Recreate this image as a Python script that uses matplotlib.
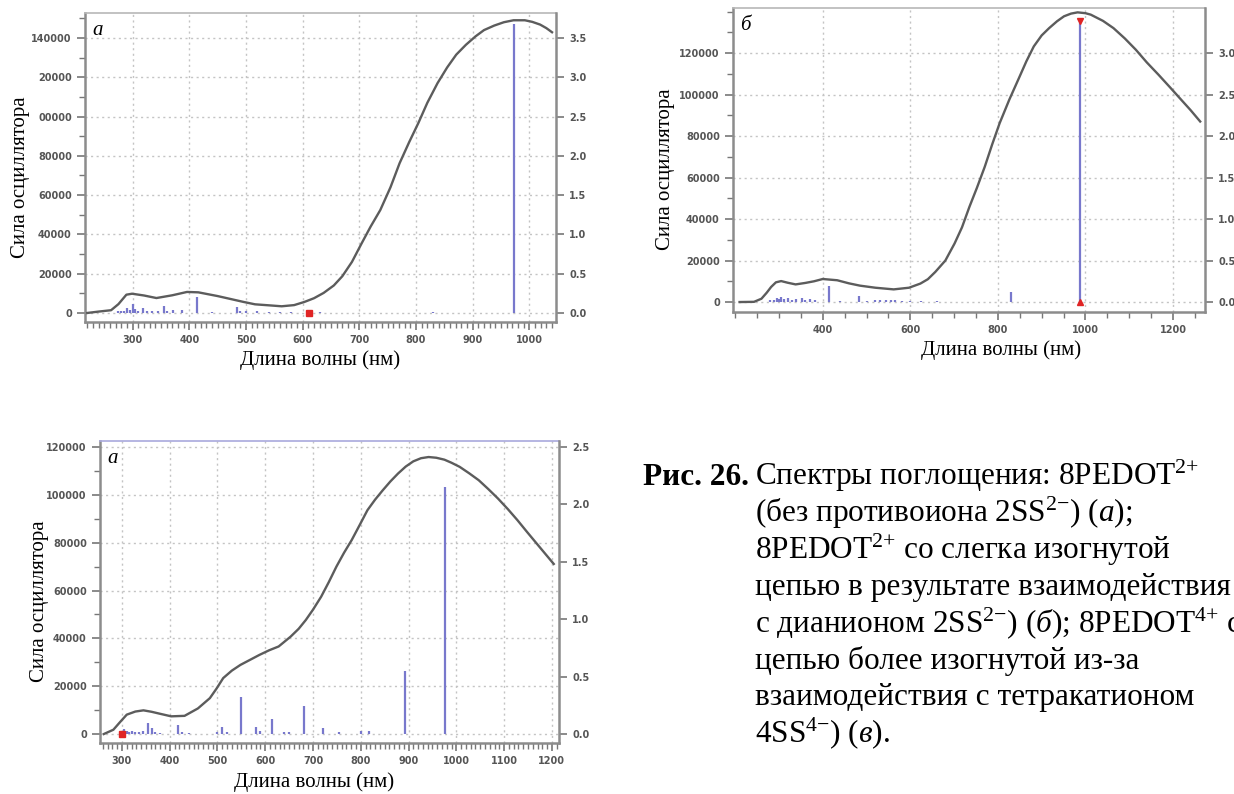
import matplotlib
matplotlib.use("Agg")
import matplotlib.pyplot as plt
from matplotlib.ticker import MultipleLocator

plt.rcParams['font.family'] = ['Liberation Serif', 'DejaVu Serif']
plt.rcParams['mathtext.fontset'] = 'custom'
plt.rcParams['mathtext.rm'] = 'Liberation Serif'
plt.rcParams['mathtext.it'] = 'Liberation Serif:italic'

# --- panel a: 8PEDOT2+ without counter ion ---
a_wl = [220, 240, 262, 275, 289, 299, 320, 342, 370, 396, 416, 450, 496, 516, 540, 563,
        585, 603, 620, 637, 655, 670, 687, 704, 720, 737, 755, 771, 788, 804, 820, 838,
        855, 871, 888, 905, 920, 938, 955, 972, 992, 1005, 1019, 1030, 1040]
a_abs = [0, 700, 1400, 4500, 9300, 9800, 8900, 7600, 9000, 10700, 10500, 8600, 5600, 4400,
         3900, 3400, 4000, 5600, 7500, 10200, 14000, 18700, 26000, 35400, 44000, 52400,
         64000, 76200, 87000, 96600, 107000, 117000, 125000, 131500, 136500, 140800,
         144000, 146300, 148000, 149000, 149000, 148200, 146800, 145000, 142900]
a_stick_wl = [275, 280, 285, 290, 295, 300, 305, 310, 318, 325, 335, 345, 355, 360, 372,
              388, 413, 440, 485, 490, 500, 520, 540, 560, 580, 630, 830, 973]
a_stick_f = [0.02, 0.03, 0.02, 0.06, 0.04, 0.12, 0.05, 0.03, 0.06, 0.03, 0.02, 0.03, 0.085,
             0.03, 0.04, 0.035, 0.2, 0.01, 0.075, 0.03, 0.02, 0.02, 0.01, 0.01, 0.015,
             0.015, 0.008, 3.68]
a_red_wl = [612]
a_ylabels = ['0', '20000', '40000', '60000', '80000', '00000', '20000', '140000']

# --- panel б: slightly bent chain with 2SS2- ---
b_wl = [210, 243, 260, 272, 282, 293, 305, 320, 338, 360, 380, 400, 433, 460, 485, 520,
        562, 597, 623, 640, 657, 680, 701, 718, 735, 752, 770, 787, 804, 826, 848, 865,
        882, 900, 917, 935, 951, 967, 982, 1000, 1012, 1040, 1064, 1090, 1115, 1140,
        1167, 1193, 1219, 1240, 1262]
b_abs = [0, 100, 1600, 4500, 7250, 9500, 10100, 9300, 8500, 9200, 10000, 11100, 10500,
         9000, 7900, 6900, 6100, 6900, 8900, 11000, 14500, 20000, 28200, 36000, 45900,
         55000, 65200, 76000, 86200, 97500, 107900, 116000, 123200, 128500, 132000,
         135300, 137700, 139000, 139600, 139200, 138500, 135500, 132000, 127000, 121600,
         115500, 109500, 103500, 97400, 92500, 87000]
b_stick_wl = [280, 288, 295, 300, 305, 312, 320, 330, 340, 352, 360, 372, 383, 415, 440,
              483, 500, 520, 530, 545, 555, 565, 580, 600, 625, 662, 830, 988]
b_stick_f = [0.02, 0.03, 0.05, 0.04, 0.06, 0.04, 0.05, 0.03, 0.04, 0.05, 0.03, 0.04, 0.03,
             0.19, 0.01, 0.07, 0.01, 0.03, 0.02, 0.03, 0.03, 0.02, 0.01, 0.01, 0.01, 0.01,
             0.12, 3.38]
b_mark_wl = 988
b_mark_f = 3.38
b_ylabels = ['0', '20000', '40000', '60000', '80000', '100000', '120000']

# --- panel в: 8PEDOT4+ with 4SS4- ---
v_wl = [262, 282, 296, 310, 328, 345, 362, 379, 403, 431, 459, 484, 498, 512, 530, 548,
        568, 588, 608, 628, 653, 670, 685, 700, 717, 733, 749, 765, 781, 798, 814, 830,
        846, 862, 878, 894, 910, 926, 942, 958, 975, 990, 1007, 1027, 1047, 1067, 1087,
        1108, 1128, 1148, 1168, 1186, 1204]
v_abs = [0, 1800, 5000, 8100, 9400, 9900, 9300, 8500, 7400, 7600, 10700, 15000, 19000,
         23400, 26500, 28900, 31000, 33100, 35000, 36600, 40700, 44000, 47700, 52000,
         57400, 63500, 70000, 75800, 81100, 87500, 93600, 98000, 101900, 105600, 108900,
         111800, 114000, 115300, 115800, 115500, 114700, 113400, 111700, 109000, 106100,
         102400, 98500, 94000, 89400, 84500, 79700, 75400, 71100]
v_stick_wl = [300, 305, 310, 315, 320, 328, 335, 345, 355, 362, 370, 380, 418, 425, 440,
              500, 510, 520, 550, 580, 590, 615, 640, 650, 682, 720, 755, 800, 818, 893, 977]
v_stick_f = [0.03, 0.04, 0.03, 0.02, 0.03, 0.02, 0.02, 0.03, 0.10, 0.05, 0.02, 0.01, 0.08,
             0.02, 0.01, 0.02, 0.06, 0.02, 0.32, 0.06, 0.03, 0.13, 0.015, 0.015, 0.24,
             0.05, 0.02, 0.03, 0.03, 0.55, 2.15]
v_red_wl = [300]
v_ylabels = ['0', '20000', '40000', '60000', '80000', '100000', '120000']

caption_lines = [
    r'Спектры поглощения: 8PEDOT$^{2{+}}$',
    r'(без противоиона 2SS$^{2{-}}$) ($\mathit{а}$);',
    r'8PEDOT$^{2{+}}$ со слегка изогнутой',
    r'цепью в результате взаимодействия',
    r'с дианионом 2SS$^{2{-}}$) ($\mathit{б}$); 8PEDOT$^{4{+}}$ с',
    r'цепью более изогнутой из-за',
    r'взаимодействия с тетракатионом',
    r'4SS$^{4{-}}$) ($\mathit{в}$).',
]

W, H = 1234, 794
CURVE = '#5c5c5c'
STICK = '#7878cc'
RED = '#e02424'
TICKC = '#555555'


def rect(l, r, t, b):
    return [l / W, 1 - b / H, (r - l) / W, (b - t) / H]


def draw_panel(fig, box, xlim, ylim, scale, wl, ab, sx, sf, xmaj, xmin, ylabels,
               rmax, letter, ylab_x, xlab_x, xlab_y, top_color='#b8b8b8'):
    ax = fig.add_axes(box)
    ax.set_xlim(*xlim)
    ax.set_ylim(*ylim)

    # dotted grid
    ax.set_xticks(xmaj)
    ax.xaxis.set_minor_locator(MultipleLocator(xmin))
    ax.set_yticks(range(0, 20000 * len(ylabels), 20000))
    ax.set_yticklabels(ylabels)
    ax.yaxis.set_minor_locator(MultipleLocator(10000))
    ax.grid(True, which='major', color='#c4c4c4', ls=(0, (1.5, 2.5)), lw=1)
    ax.set_axisbelow(True)

    ax.plot(wl, ab, color=CURVE, lw=1.7, zorder=3)

    for s in ['left', 'bottom']:
        ax.spines[s].set_color('#8c8c8c')
        ax.spines[s].set_linewidth(1.8)
    ax.spines['top'].set_color(top_color)
    ax.spines['top'].set_linewidth(1.2)
    ax.spines['right'].set_visible(False)

    ax.tick_params(which='both', direction='out', colors='#777777', labelcolor=TICKC,
                   labelsize=7)
    ax.tick_params(which='major', length=6, width=1.2)
    ax.tick_params(which='minor', length=4, width=1)
    for lab in ax.get_xticklabels() + ax.get_yticklabels():
        lab.set_family('DejaVu Sans')
        lab.set_fontweight('bold')

    ax.set_ylabel('Сила осциллятора', fontsize=15, va='center')
    ax.yaxis.set_label_coords(ylab_x, 0.47)
    ax.set_xlabel('Длина волны (нм)', fontsize=15, va='center')
    ax.xaxis.set_label_coords(xlab_x, xlab_y)
    ax.text(0.015, 0.975, letter, transform=ax.transAxes, fontsize=15, style='italic',
            va='top', ha='left')

    # oscillator strength sticks on the right axis
    ax2 = ax.twinx()
    ax2.set_ylim(ylim[0] / scale, ylim[1] / scale)
    ax2.vlines(sx, 0, sf, color=STICK, lw=1.6, zorder=4)
    ticks = [i * 0.5 for i in range(int(rmax / 0.5) + 1)]
    ax2.set_yticks(ticks)
    ax2.set_yticklabels(['%.1f' % t for t in ticks])
    for s in ['left', 'bottom', 'top']:
        ax2.spines[s].set_visible(False)
    ax2.spines['right'].set_color('#8c8c8c')
    ax2.spines['right'].set_linewidth(1.8)
    ax2.tick_params(direction='out', length=6, width=1.2, colors='#777777',
                    labelcolor=TICKC, labelsize=7)
    for lab in ax2.get_yticklabels():
        lab.set_family('DejaVu Sans')
        lab.set_fontweight('bold')
    return ax, ax2


fig = plt.figure(figsize=(W / 100, H / 100), dpi=100)

# a
ax, ax2 = draw_panel(fig, rect(85, 556, 13, 322), (216, 1047), (-4600, 152700), 40000,
                     a_wl, a_abs, a_stick_wl, a_stick_f, range(300, 1001, 100), 10,
                     a_ylabels, 3.5, 'а', -0.136, 0.50, -0.123)
ax2.plot(a_red_wl, [0] * len(a_red_wl), 's', color=RED, ms=5, zorder=5)

# б
ax, ax2 = draw_panel(fig, rect(733, 1205, 8, 312), (195, 1273), (-4800, 141700), 40000,
                     b_wl, b_abs, b_stick_wl, b_stick_f, range(400, 1201, 200), 50,
                     b_ylabels, 3.0, 'б', -0.144, 0.568, -0.125)
ax2.plot([b_mark_wl], [b_mark_f], 'v', color=RED, ms=5, zorder=5)
ax2.plot([b_mark_wl], [0], '^', color=RED, ms=5, zorder=5)

# в
ax, ax2 = draw_panel(fig, rect(100, 559, 441, 743), (254, 1215), (-3750, 122500), 48000,
                     v_wl, v_abs, v_stick_wl, v_stick_f, range(300, 1201, 100), 10,
                     v_ylabels, 2.5, 'а', -0.131, 0.466, -0.128, top_color='#a9a9dd')
ax2.plot(v_red_wl, [0] * len(v_red_wl), 's', color=RED, ms=5, zorder=5)

# caption
base = 485
step = 36.75
fig.text(643 / W, 1 - base / H, 'Рис. 26.', fontsize=22.5, fontweight='bold',
         va='baseline', ha='left')
for i, line in enumerate(caption_lines):
    fig.text(755 / W, 1 - (base + i * step) / H, line, fontsize=22.5,
             va='baseline', ha='left')

fig.savefig('out.png', dpi=100)
